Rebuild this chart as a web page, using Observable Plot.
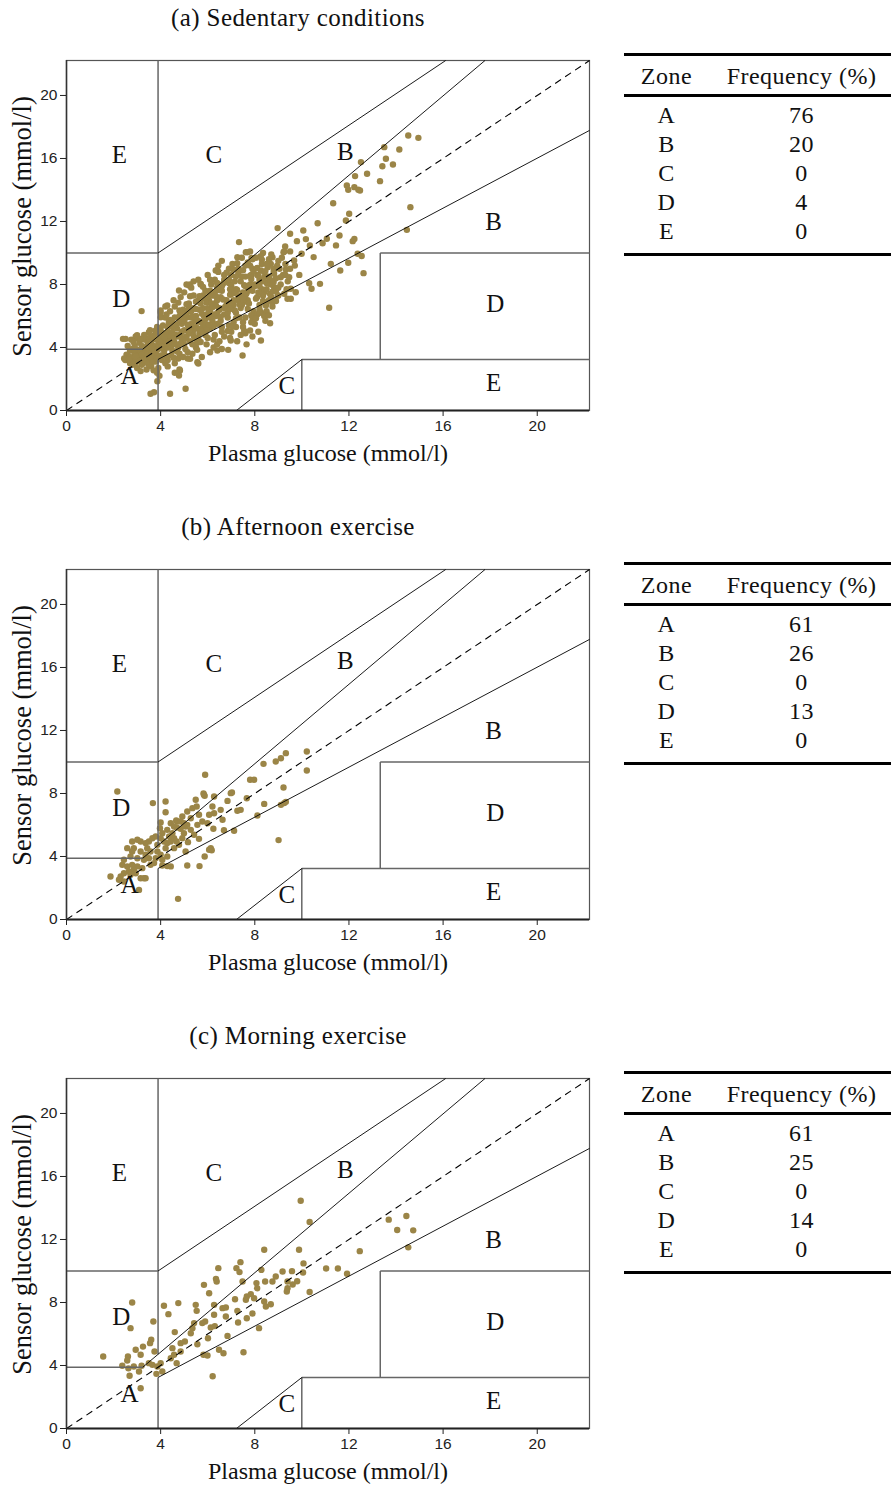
<!DOCTYPE html>
<html>
<head>
<meta charset="utf-8">
<script src="https://cdn.jsdelivr.net/npm/d3@7"></script>
<script src="https://cdn.jsdelivr.net/npm/@observablehq/plot@0.6"></script>
<style>
  html, body { margin: 0; padding: 0; background: #fff; }
  body { position: relative; width: 891px; height: 1488px; overflow: hidden; font-family: "Liberation Serif", serif; color: #111; }
  .title { position: absolute; left: 0; width: 596px; text-align: center; font-size: 25px; line-height: 28px; letter-spacing: 0.4px; }
  .chart { position: absolute; left: 0; }
  .tbl { position: absolute; left: 624px; width: 267px; border-top: 3px solid #000; border-bottom: 3px solid #000; font-size: 24px; letter-spacing: 0.5px; }
  .tbl .row { display: flex; }
  .tbl .c1 { width: 86px; text-align: center; }
  .tbl .c2 { width: 181px; text-align: center; padding-left: 3px; }
  .tbl .head { height: 38px; line-height: 40px; border-bottom: 3px solid #000; }
  .tbl .body { padding-top: 4px; padding-bottom: 7px; }
  .tbl .body .row { height: 29px; line-height: 29px; }
</style>
</head>
<body>
<script>
// ---------- data (mmol/l) ----------
const panelTitles = ["(a) Sedentary conditions", "(b) Afternoon exercise", "(c) Morning exercise"];
const xLabel = "Plasma glucose (mmol/l)";
const yLabel = "Sensor glucose (mmol/l)";
const tickValues = [0, 4, 8, 12, 16, 20];
const axisMax = 22.22;

const zones = ["A", "B", "C", "D", "E"];
const freqSedentary = [76, 20, 0, 4, 0];
const freqAfternoon = [61, 26, 0, 13, 0];
const freqMorning = [61, 25, 0, 14, 0];

// Clarke error grid boundaries [x1, y1, x2, y2]
const diagonalLines = [
  [3.24, 3.89, 17.78, 22.22],
  [3.89, 3.24, 22.22, 17.78],
  [3.89, 10, 16.11, 22.22],
  [7.22, 0, 10, 3.24],
  [10, 0, 10, 3.24]
];
const boxLines = [
  [0, 10, 3.89, 10],
  [0, 3.89, 3.24, 3.89],
  [3.89, 4.71, 3.89, 22.22],
  [3.89, 0, 3.89, 3.24],
  [13.33, 3.24, 13.33, 10],
  [13.33, 10, 22.22, 10],
  [10, 3.24, 22.22, 3.24]
];
const identityLine = [[0, 0, 22.22, 22.22]];

const zoneLabelText = ["E", "C", "B", "B", "D", "D", "A", "C", "E"];
const zoneLabelX = [2.25, 6.26, 11.85, 18.15, 2.33, 18.22, 2.68, 9.36, 18.15];
const zoneLabelY = [16.2, 16.2, 16.4, 11.95, 7.05, 6.75, 2.2, 1.55, 1.72];

const sedentary = [
  [14.52,17.46],[14.95,17.31],[13.5,16.72],[14.14,16.57],[13.57,15.98],[13.42,15.51],[13.87,15.62],[12.51,15.77],[12.77,15.03],[12.26,14.88],
  [13.32,14.56],[11.91,14.29],[11.97,14.01],[12.23,14.18],[12.4,14.01],[12.47,13.97],[11.33,13.16],[14.61,12.91],[12.01,12.49],[11.87,12.06],
  [14.46,11.47],[10.67,11.89],[8.97,11.58],[10.06,11.43],[9.5,11.22],[10.17,10.88],[9.79,10.75],[11.06,10.9],[11.6,11.11],[9.29,10.41],
  [10.34,10.48],[10.88,10.62],[11.45,10.48],[12.16,10.75],[12.23,10.89],[9.5,10.1],[9.99,9.95],[9.67,9.52],[10.5,9.74],[12.37,9.95],
  [12.54,9.81],[11.97,9.38],[11.63,8.89],[12.62,8.72],[11.23,9.31],[10.77,8.04],[10.31,8.08],[10.41,7.73],[11.16,6.52],[9.89,8.61],
  [9.46,8.46],[9.1,8.46],[8.82,8.68],[9.32,8.95],[9.53,7.73],[9.74,7.51],[9.25,7.41],[8.97,7.3],[9.39,7.09],[8.75,6.88],
  [8.47,6.67],[8.26,6.24],[8.61,8.04],[8.82,7.83],[8.4,8.46],[8.26,8.89],[8.68,9.31],[8.75,9.73],[9.22,10.05],[7.69,10.05],
  [3.19,6.31],[2.51,4.55],[2.94,4.7],[3.5,4.97],[3.79,5.08],[3.57,1.06],[3.72,1.16],[4.4,1.06],[5.06,1.38],[3.86,1.86],
  [4.82,2.54],[4.78,2.22],[5.25,3.28],[5.56,3.07],[5.6,2.98],[6.41,3.81],[6.87,3.85],[7.48,3.49],[6.98,4.44],[8.26,4.44],
  [8.65,5.54],[7.8,5.08],[9.53,7.09],[4.78,7.62],[5.21,7.94],[5.25,8.0],[5.7,8.04],[6.34,8.89],[6.41,8.93],[7.26,9.73],
  [7.62,10.05],[7.33,10.69],[7.86,9.69],[8.3,9.58],[6.06,7.51],[5.7,7.2],[4.28,6.67],[4.0,6.35],[4.0,5.92],[3.0,4.78],
  [2.5,3.2],[2.6,3.5],[2.7,3.0],[2.8,3.3],[2.9,3.6],[3.0,3.1],[3.1,3.4],[3.2,3.8],[2.7,3.8],[2.9,4.1],
  [3.1,4.3],[3.3,4.0],[3.4,3.5],[3.5,3.2],[3.6,3.7],[3.7,4.1],[3.3,4.5],[3.5,4.6],[3.0,4.6],[2.6,4.1],
  [2.8,2.9],[3.2,2.9],[3.6,2.8],[3.8,3.1],[3.9,2.7],[3.4,2.6],[2.9,3.0],[3.1,3.7],[3.8,3.6],[3.9,4.2],
  [3.6,4.4],[2.8,3.9],[2.55,3.55],[3.05,3.85],[3.45,3.85],[3.25,3.25],[3.7,3.3],[3.95,3.45],[3.5,2.9],[3.0,2.7],
  [2.75,4.5],[3.3,4.8],[3.75,4.8],[3.9,5.0],[3.55,5.1],[2.45,3.3],[2.4,4.55],[3.15,2.5],[3.85,2.4],[3.95,2.2],
  [4.0,3.5],[4.1,4.0],[4.2,4.5],[4.3,5.0],[4.1,5.4],[4.2,5.9],[4.4,6.3],[4.5,3.8],[4.6,4.3],[4.4,4.7],
  [4.7,5.2],[4.5,5.6],[4.8,6.0],[4.6,6.6],[4.9,4.5],[4.8,3.6],[4.3,3.2],[4.6,3.0],[4.9,5.5],[4.95,6.4],
  [4.2,6.6],[4.05,4.8],[4.35,5.6],[4.75,4.0],[4.55,7.0],[4.85,7.2],[4.15,3.8],[4.45,4.1],[4.65,4.8],[4.9,5.0],
  [4.0,6.2],[4.3,2.8],[4.8,2.6],[4.6,2.4],
  [5.0,4.2],[5.1,4.7],[5.2,5.3],[5.1,5.9],[5.3,6.3],[5.2,6.8],[5.4,7.3],[5.5,4.0],[5.6,4.6],[5.4,5.1],
  [5.7,5.6],[5.5,6.0],[5.8,6.5],[5.6,7.0],[5.9,7.6],[5.7,8.0],[5.3,7.8],[5.0,7.5],[5.9,4.8],[5.8,5.3],
  [5.95,6.1],[5.35,3.6],[5.75,3.4],[5.15,3.3],[5.45,5.7],[5.65,6.4],[5.05,6.3],[5.85,7.1],[5.25,4.4],[5.55,4.3],
  [5.95,4.2],[5.4,8.2],[5.1,8.0],[5.6,5.2],[5.3,5.5],
  [6.0,4.6],[6.1,5.2],[6.2,5.7],[6.1,6.3],[6.3,6.8],[6.2,7.3],[6.4,7.8],[6.3,8.3],[6.5,4.4],[6.6,5.0],
  [6.4,5.5],[6.7,6.1],[6.5,6.5],[6.8,7.0],[6.6,7.6],[6.9,8.1],[6.7,8.6],[6.9,5.4],[6.85,5.9],[6.05,7.0],
  [6.15,8.0],[6.45,8.8],[6.25,4.0],[6.6,3.9],[6.95,4.6],[6.35,6.0],[6.55,7.2],[6.75,6.6],[6.1,3.7],[6.45,9.2],
  [6.9,9.0],[6.0,8.6],
  [7.0,5.0],[7.1,5.6],[7.2,6.2],[7.1,6.7],[7.3,7.2],[7.2,7.7],[7.4,8.2],[7.3,8.7],[7.5,5.3],[7.6,5.9],
  [7.4,6.5],[7.7,7.0],[7.5,7.5],[7.8,8.0],[7.6,8.5],[7.9,9.0],[7.7,9.4],[7.95,6.3],[7.85,5.6],[7.05,9.3],
  [7.25,4.4],[7.6,4.9],[7.9,4.7],[7.45,9.7],[7.15,8.2],[7.55,6.9],[7.75,7.8],[7.35,5.9],[7.0,7.9],[7.85,8.6],
  [7.65,4.2],[7.8,10.1],
  [8.0,5.5],[8.1,6.1],[8.2,6.7],[8.1,7.2],[8.3,7.7],[8.2,8.3],[8.4,8.8],[8.3,9.3],[8.5,6.3],[8.6,7.0],
  [8.4,7.5],[8.7,8.0],[8.5,8.5],[8.8,9.0],[8.6,9.6],[8.9,7.6],[8.05,9.7],[8.45,5.7],[8.15,5.0],[8.75,6.6],
  [8.35,10.0],[8.9,8.4],[8.55,9.1],[8.0,8.0],
  [9.0,7.3],[9.1,8.0],[9.2,8.6],[9.05,9.0],[9.3,9.3],[9.15,9.7],[9.4,8.2],[9.35,7.7],[9.25,10.1],
  [4.1,4.3],[4.4,4.4],[4.7,4.7],[5.0,5.1],[5.3,5.2],[5.6,5.7],[5.9,5.8],[6.2,6.1],[6.5,6.4],[6.8,6.7],
  [7.1,7.0],[7.4,7.3],[7.7,7.6],[8.0,7.9],[8.3,8.2],[8.6,8.5],[4.2,4.9],[4.5,5.3],[4.8,5.7],[5.1,6.1],
  [5.4,6.5],[5.7,6.8],[6.0,7.2],[6.3,7.5],[6.6,7.9],[6.9,8.3],[7.2,8.5],[7.5,8.9],[7.8,9.2],[4.3,4.0],
  [4.6,4.2],[4.9,4.6],[5.2,4.9],[5.5,5.3],[5.8,5.6],[6.1,5.9],[6.4,6.2],[6.7,6.5],[7.0,6.8],[7.3,7.0],
  [7.6,7.3],[7.9,7.6],[8.2,7.9],[8.5,8.1],[3.9,3.9],[3.6,3.5],[3.3,3.3],[3.0,3.4],[2.7,3.4],[3.5,4.2],
  [4.0,4.6],[4.0,5.1],[5.0,5.7],[5.3,5.9],[6.0,6.5],[6.4,7.0],[7.0,7.4],[7.6,7.9],[8.1,8.6],[8.8,8.8],
  [4.25,4.25],[4.55,4.55],[4.85,4.85],[5.15,5.45],[5.45,5.75],[5.75,6.15],[6.05,6.35],[6.35,6.65],[6.65,7.05],[6.95,7.35],
  [7.25,7.65],[7.55,7.95],[7.85,8.35],[8.15,8.55],[8.45,8.85],[4.15,3.55],[4.45,3.5],[4.75,3.3],[5.05,3.9],[5.35,4.2],
  [5.65,4.9],[5.95,5.1],[6.25,5.35],[6.55,5.7],[6.85,6.2],[7.15,6.35],[7.45,6.7],[7.75,6.8],[8.05,7.1],[8.35,7.3],
  [8.65,7.4],[4.3,5.3],[4.6,5.9],[4.9,6.2],[5.2,6.55],[5.5,6.9],[5.8,7.3],[6.1,7.6],[6.4,8.1],[6.7,8.3],
  [7.0,8.6],[7.3,9.0],[7.6,9.2],[3.3,3.6],[3.5,3.95],[3.75,3.85],[3.95,4.4],[3.2,4.1],[2.9,3.85],[2.65,3.25],
  [3.0,3.25],[3.35,3.05],[3.65,3.1],[3.8,4.5],[4.05,4.05],[4.25,3.45],[5.45,4.6],[5.75,5.0],[6.3,4.8],[6.6,5.3],
  [7.2,5.3],[7.5,5.6],[7.9,5.9],[8.2,6.2],[8.5,6.8],[8.7,7.2],[9.0,7.8],[9.3,8.6],[9.5,9.0],[9.7,9.2],
  [9.0,9.5],[8.7,9.9],
  [4.05,3.2],[4.2,3.0],[4.35,4.35],[4.5,4.95],[4.65,5.45],[4.8,6.35],[4.95,5.85],[4.15,4.65],[4.4,5.75],[4.7,3.75],
  [4.85,4.25],[4.55,3.35],[4.25,6.1],[4.75,6.85],[4.95,3.4],
  [5.05,4.55],[5.2,5.05],[5.35,5.95],[5.5,6.45],[5.65,7.25],[5.8,7.85],[5.95,6.85],[5.1,6.75],[5.25,7.25],[5.4,4.75],
  [5.55,3.85],[5.7,4.35],[5.85,5.95],[5.15,3.7],[5.6,8.3],[5.9,5.45],
  [6.05,5.45],[6.2,6.55],[6.35,7.25],[6.5,7.65],[6.65,8.05],[6.8,8.75],[6.95,7.7],[6.1,8.3],[6.25,4.5],[6.4,4.2],
  [6.55,5.95],[6.7,4.7],[6.85,5.05],[6.15,6.8],[6.6,9.5],[6.95,6.45],
  [7.05,5.35],[7.2,5.85],[7.35,6.75],[7.5,7.15],[7.65,7.45],[7.8,8.55],[7.95,8.85],[7.1,8.95],[7.25,9.35],[7.4,4.8],
  [7.55,5.05],[7.7,6.45],[7.85,6.05],[7.15,7.45],[7.45,8.5],[7.9,9.6],
  [8.05,5.85],[8.2,6.45],[8.35,6.95],[8.5,7.7],[8.65,8.3],[8.8,8.15],[8.95,9.2],[8.1,9.05],[8.25,9.8],[8.4,6.0],
  [8.6,6.05],[8.75,7.55],[8.9,6.95],[8.15,7.5],[8.5,9.3],
  [3.15,4.55],[3.45,4.3],[3.65,4.7],[3.85,3.3],[3.6,3.95],[3.4,3.15],[3.85,5.3],[3.7,2.55],[3.2,3.55],[2.95,3.45],
  [3.55,3.4],[2.85,4.35]
];

const afternoon = [
  [2.16,8.13],[3.67,7.39],[4.21,7.49],[4.21,6.81],[5.89,9.19],[5.84,7.92],[5.87,7.85],[6.27,7.81],[5.49,7.6],[5.53,7.17],
  [5.35,7.07],[5.13,6.86],[6.2,7.17],[6.27,6.75],[6.06,6.65],[5.63,6.65],[5.28,6.43],[4.92,6.54],[4.71,6.22],[4.66,6.29],
  [4.43,6.11],[4.0,6.16],[3.97,5.8],[4.07,5.48],[4.28,5.69],[4.5,5.48],[4.68,5.84],[4.85,5.76],[5.06,5.9],[5.28,5.69],
  [5.56,6.01],[5.77,6.22],[5.99,6.11],[6.24,5.76],[6.55,6.96],[6.63,6.33],[6.84,7.53],[6.98,8.02],[7.03,8.06],[7.12,5.63],
  [6.69,5.67],[7.26,6.9],[7.4,6.96],[7.66,7.7],[7.8,8.87],[7.97,8.87],[8.37,9.88],[8.11,6.6],[8.4,7.34],[8.89,10.03],
  [9.11,10.24],[9.32,10.56],[9.22,8.38],[9.11,7.28],[9.25,7.39],[9.32,7.47],[9.01,5.04],[10.21,10.67],[10.21,9.46],[5.13,3.43],
  [5.65,3.39],[4.74,1.31],[5.87,4.0],[6.13,4.53],[6.17,4.4],[6.06,4.43],[5.63,5.12],[5.16,4.91],[5.06,4.32],[4.57,4.53],
  [4.43,3.37],[4.28,3.39],[4.07,3.43],[3.86,4.74],[3.79,5.27],[3.65,5.16],[3.5,4.95],[3.36,4.85],[3.15,4.95],[3.01,5.06],
  [2.79,4.95],[2.58,4.53],[2.86,4.53],[3.15,4.32],[3.36,4.11],[3.57,4.32],[3.86,4.32],[4.0,4.11],[4.28,4.0],[4.07,3.79],
  [3.79,3.89],[3.5,3.89],[3.29,3.79],[3.01,3.89],[2.72,4.0],[2.44,3.79],[2.37,3.47],[2.58,3.37],[2.79,3.47],[3.01,3.37],
  [3.22,3.26],[2.86,3.16],[2.65,3.05],[2.44,2.94],[2.72,2.84],[2.3,2.73],[1.87,2.73],[2.23,2.52],[2.44,2.41],[3.15,2.62],
  [3.29,2.62],[3.36,2.62],[3.08,1.88],[2.94,2.94],[3.57,3.47],[3.72,3.58],[3.43,4.53],[2.79,4.32],[4.0,5.16],[4.14,4.95],
  [4.28,4.85],[4.43,4.95],[4.21,4.53],[4.78,4.74],[4.92,5.16],[4.57,5.16],[4.36,5.27],[4.68,4.95],[4.99,5.48],[5.42,5.38],
  [5.13,6.01],[4.85,6.22],[4.99,6.11],[4.57,5.9],[5.82,8.0]
];

const morning = [
  [1.56,4.57],[2.79,8.0],[2.72,6.37],[3.69,6.79],[2.37,3.98],[2.61,4.57],[2.58,4.32],[2.94,5.0],[2.68,3.35],[2.63,3.82],
  [3.15,4.68],[3.25,5.2],[2.86,3.94],[3.19,3.98],[3.08,3.62],[3.15,2.56],[3.55,5.42],[3.6,5.63],[3.74,4.89],[3.5,4.15],
  [3.65,4.04],[3.86,3.94],[3.82,3.47],[4.07,3.62],[4.0,4.15],[4.14,7.79],[4.33,7.26],[4.75,7.96],[4.6,6.12],[4.5,5.1],
  [4.57,4.68],[4.68,4.15],[4.85,5.42],[5.03,5.52],[4.43,4.46],[4.85,4.89],[5.28,6.05],[5.35,6.37],[5.42,6.69],[5.56,5.35],
  [5.49,7.85],[5.53,7.47],[5.84,9.12],[5.89,6.79],[6.06,8.59],[6.01,5.73],[5.82,4.68],[5.99,4.63],[5.77,6.69],[6.13,6.41],
  [6.35,9.5],[6.45,10.18],[6.38,9.33],[6.27,7.85],[6.27,7.22],[6.3,6.5],[6.48,5.0],[6.67,4.78],[6.21,3.32],[6.63,7.64],
  [6.77,7.68],[6.84,5.88],[6.77,7.11],[7.22,10.18],[7.35,9.93],[7.39,10.56],[7.48,9.33],[7.16,8.21],[7.26,7.47],[7.29,6.73],
  [7.52,4.84],[7.62,8.17],[7.66,8.38],[7.83,8.53],[7.97,8.27],[7.66,7.0],[7.9,7.3],[8.07,9.23],[8.1,8.9],[8.4,11.35],
  [8.28,10.07],[8.18,6.37],[8.44,9.33],[8.4,8.06],[8.47,7.75],[8.68,7.89],[8.75,9.33],[8.89,9.65],[9.18,9.97],[9.39,8.91],
  [9.39,9.33],[9.58,9.99],[9.61,9.14],[9.8,9.35],[9.88,11.35],[9.95,14.46],[10.07,10.48],[10.05,9.9],[10.33,13.11],[10.33,8.67],
  [11.03,10.16],[11.53,10.16],[11.92,9.82],[12.46,11.26],[13.69,13.26],[14.05,12.6],[14.44,13.49],[14.73,12.58],[14.52,11.5],[9.36,8.7]
];

const panelData = [sedentary, afternoon, morning];
const panelFreq = [freqSedentary, freqAfternoon, freqMorning];

// ---------- drawing ----------
const panelOffsets = [0, 509, 1018];
const dotColor = "#9b8547";
const zoneLabels = zoneLabelText.map((t, i) => ({t, x: zoneLabelX[i], y: zoneLabelY[i]}));
const seg = {x1: d => d[0], y1: d => d[1], x2: d => d[2], y2: d => d[3]};

panelData.forEach((pts, i) => {
  const top = panelOffsets[i];

  const title = document.createElement("div");
  title.className = "title";
  title.style.top = (top + 4) + "px";
  title.textContent = panelTitles[i];
  document.body.appendChild(title);

  const chart = Plot.plot({
    width: 600,
    height: 430,
    marginLeft: 66,
    marginRight: 11,
    marginTop: 20,
    marginBottom: 60,
    style: {background: "transparent", overflow: "visible", fontFamily: "Liberation Sans, Arial, sans-serif", fontSize: "15.5px"},
    x: {domain: [0, axisMax]},
    y: {domain: [0, axisMax]},
    marks: [
      Plot.dot(pts, {x: d => d[0], y: d => d[1], r: 3.2, fill: dotColor, stroke: "none"}),
      Plot.frame({stroke: "#555", strokeWidth: 1.2}),
      Plot.link(boxLines, {...seg, stroke: "#666", strokeWidth: 1.5}),
      Plot.link(diagonalLines, {...seg, stroke: "#000", strokeWidth: 0.9}),
      Plot.link(identityLine, {...seg, stroke: "#000", strokeWidth: 1.1, strokeDasharray: "7,5"}),
      Plot.text(zoneLabels, {x: "x", y: "y", text: "t", fontSize: 25, fontFamily: "Liberation Serif, serif", fill: "#111"}),
      Plot.ruleY([0], {stroke: "#222", strokeWidth: 2}),
      Plot.ruleX([0], {stroke: "#333", strokeWidth: 1.5}),
      Plot.axisX({ticks: tickValues, tickSize: 6, tickPadding: 3, fontSize: 15.5, label: null, color: "#222"}),
      Plot.axisY({ticks: tickValues, tickSize: 6, tickPadding: 3, fontSize: 15.5, label: null, color: "#222"}),
      Plot.text([xLabel], {frameAnchor: "bottom", dy: 50, text: d => d, fontSize: 24, fontFamily: "Liberation Serif, serif", fill: "#111"}),
      Plot.text([yLabel], {frameAnchor: "left", dx: -44, dy: -9, rotate: -90, textAnchor: "middle", text: d => d, fontSize: 26.5, fontFamily: "Liberation Serif, serif", fill: "#111"})
    ]
  });
  // enforce tick label size
  d3.select(chart).selectAll('g[aria-label$="tick label"]').attr("font-size", 15.5).style("font-size", "15.5px");

  const holder = document.createElement("div");
  holder.className = "chart";
  holder.style.top = (top + 40) + "px";
  holder.appendChild(chart);
  document.body.appendChild(holder);

  const tbl = document.createElement("div");
  tbl.className = "tbl";
  tbl.style.top = (top + 53) + "px";
  let html = '<div class="row head"><div class="c1">Zone</div><div class="c2">Frequency (%)</div></div><div class="body">';
  zones.forEach((z, j) => {
    html += `<div class="row"><div class="c1">${z}</div><div class="c2">${panelFreq[i][j]}</div></div>`;
  });
  html += '</div>';
  tbl.innerHTML = html;
  document.body.appendChild(tbl);
});
</script>
</body>
</html>
